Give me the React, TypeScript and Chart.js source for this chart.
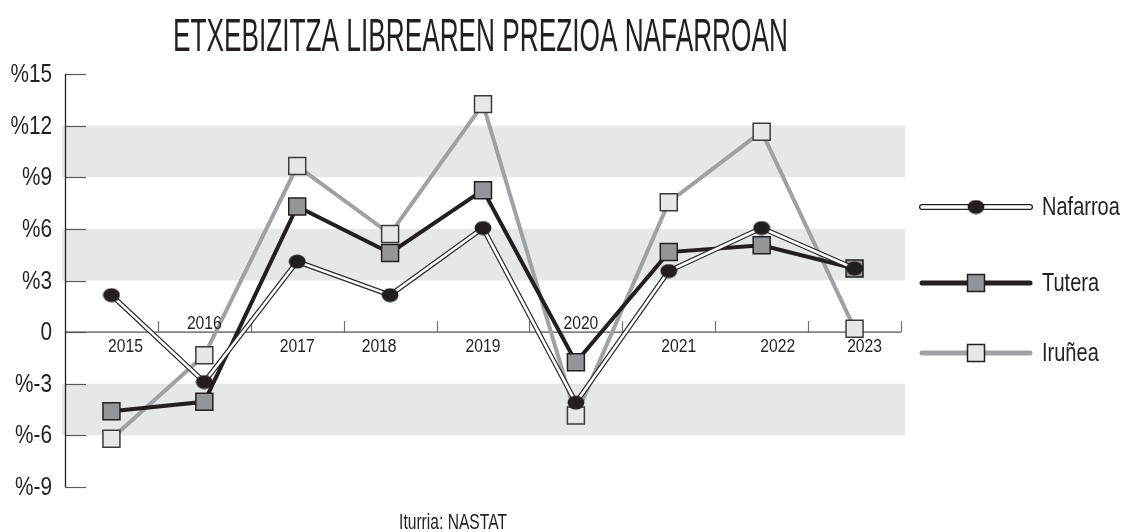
import React, { useEffect, useRef } from 'react';
import { Chart, registerables } from 'chart.js';

Chart.register(...registerables);

// ---------------- data ----------------
const YEARS = ['2015', '2016', '2017', '2018', '2019', '2020', '2021', '2022', '2023'];
const NAFARROA = [2.15, -2.9, 4.1, 2.15, 6.05, -4.1, 3.55, 6.05, 3.7];
const TUTERA = [-4.6, -4.05, 7.3, 4.6, 8.25, -1.75, 4.65, 5.05, 3.7];
const IRUNEA = [-6.2, -1.35, 9.65, 5.7, 13.25, -4.85, 7.55, 11.65, 0.2];
const SERIES_NAMES = ['Nafarroa', 'Tutera', 'Iruñea'];
const Y_TICKS = [-9, -6, -3, 0, 3, 6, 9, 12, 15];
const Y_TICK_LABELS = ['%-9', '%-6', '%-3', '0', '%3', '%6', '%9', '%12', '%15'];
const SHADED_BANDS = [[9, 12], [3, 6], [-6, -3]];
const LABELS_ABOVE_AXIS = ['2016', '2020'];
const TITLE = 'ETXEBIZITZA LIBREAREN PREZIOA NAFARROAN';
const SOURCE = 'Iturria: NASTAT';

// ---------------- styling ----------------
const INK = '#231f20';
const MID_GRAY = '#939598';
const LIGHT_GRAY = '#e6e7e8';
const LINE_GRAY = '#9fa1a4';
const FONT = '"Liberation Sans", Arial, sans-serif';
const X_LABEL_NUDGE = [14, 0, 0, -11, 0, 5, 10, 16, 10];

function makeEllipse(): HTMLCanvasElement {
  const c = document.createElement('canvas');
  c.width = 18;
  c.height = 15;
  const g = c.getContext('2d')!;
  g.fillStyle = INK;
  g.beginPath();
  g.ellipse(9, 7.5, 8.4, 6.9, 0, 0, Math.PI * 2);
  g.fill();
  return c;
}

function drawText(
  ctx: CanvasRenderingContext2D,
  text: string,
  x: number,
  capCenterY: number,
  size: number,
  sx: number,
  align: CanvasTextAlign,
  color = INK
) {
  ctx.save();
  ctx.font = `${size}px ${FONT}`;
  ctx.fillStyle = color;
  ctx.textAlign = align;
  ctx.textBaseline = 'alphabetic';
  ctx.translate(x, capCenterY + size * 0.36);
  ctx.scale(sx, 1);
  ctx.fillText(text, 0, 0);
  ctx.restore();
}

function drawSquare(ctx: CanvasRenderingContext2D, x: number, y: number, fill: string) {
  ctx.save();
  ctx.fillStyle = fill;
  ctx.strokeStyle = INK;
  ctx.lineWidth = 1.5;
  ctx.fillRect(x - 8.5, y - 8.5, 17, 17);
  ctx.strokeRect(x - 8.5, y - 8.5, 17, 17);
  ctx.restore();
}

const decorPlugin = {
  id: 'decor',
  beforeDatasetsDraw(chart: any) {
    const { ctx, chartArea: a, scales } = chart;
    const ys = scales.y;
    const n = YEARS.length;
    ctx.save();
    // shaded bands
    ctx.fillStyle = LIGHT_GRAY;
    SHADED_BANDS.forEach(([lo, hi]) => {
      const y1 = ys.getPixelForValue(hi);
      const y2 = ys.getPixelForValue(lo);
      ctx.fillRect(a.left - 3, y1, a.right - a.left + 7, y2 - y1);
    });
    // zero line
    const y0 = ys.getPixelForValue(0);
    ctx.strokeStyle = '#808285';
    ctx.lineWidth = 1.6;
    ctx.beginPath();
    ctx.moveTo(a.left, y0);
    ctx.lineTo(a.right, y0);
    ctx.stroke();
    // x tick marks at category boundaries
    ctx.strokeStyle = '#6d6e71';
    ctx.lineWidth = 1.2;
    for (let i = 1; i <= n; i++) {
      const x = Math.round(a.left + (i * (a.right - a.left)) / n) + 0.5;
      ctx.beginPath();
      ctx.moveTo(x, y0 - 11);
      ctx.lineTo(x, y0);
      ctx.stroke();
    }
    // y ticks
    ctx.strokeStyle = '#58595b';
    ctx.lineWidth = 1.2;
    Y_TICKS.forEach((v) => {
      const y = Math.round(ys.getPixelForValue(v)) + 0.5;
      ctx.beginPath();
      ctx.moveTo(a.left, y);
      ctx.lineTo(a.left + 21, y);
      ctx.stroke();
    });
    // y axis line
    ctx.strokeStyle = INK;
    ctx.lineWidth = 1.3;
    ctx.beginPath();
    ctx.moveTo(a.left + 0.5, ys.getPixelForValue(15));
    ctx.lineTo(a.left + 0.5, ys.getPixelForValue(-9));
    ctx.stroke();
    ctx.restore();
  },
  afterDraw(chart: any) {
    const { ctx, scales } = chart;
    const xs = scales.x;
    const ys = scales.y;
    const y0 = ys.getPixelForValue(0);

    // y tick labels
    Y_TICKS.forEach((v, i) => {
      drawText(ctx, Y_TICK_LABELS[i], 52, ys.getPixelForValue(v) - 1, 25, 0.83, 'right');
    });

    // x labels
    YEARS.forEach((yr, i) => {
      const x = xs.getPixelForValue(i) + X_LABEL_NUDGE[i];
      const above = LABELS_ABOVE_AXIS.includes(yr);
      drawText(ctx, yr, x, above ? y0 - 10 : y0 + 13, 18, 0.87, 'center');
    });

    // title
    drawText(ctx, TITLE, 173, 34, 46, 0.57, 'left');
    // source
    drawText(ctx, SOURCE, 453, 521, 22, 0.71, 'center');

    // legend
    const rows = [207, 283, 353];
    const lx1 = 922;
    const lx2 = 1030;
    const mx = 976;
    ctx.save();
    ctx.lineCap = 'round';
    // Nafarroa
    ctx.strokeStyle = INK;
    ctx.lineWidth = 6;
    ctx.beginPath();
    ctx.moveTo(lx1, rows[0]);
    ctx.lineTo(lx2, rows[0]);
    ctx.stroke();
    ctx.strokeStyle = '#ffffff';
    ctx.lineWidth = 3.4;
    ctx.beginPath();
    ctx.moveTo(lx1, rows[0]);
    ctx.lineTo(lx2, rows[0]);
    ctx.stroke();
    ctx.drawImage(ellipse, mx - 9, rows[0] - 7.5);
    // Tutera
    ctx.strokeStyle = INK;
    ctx.lineWidth = 5;
    ctx.beginPath();
    ctx.moveTo(lx1, rows[1]);
    ctx.lineTo(lx2, rows[1]);
    ctx.stroke();
    drawSquare(ctx, mx, rows[1], MID_GRAY);
    // Iruñea
    ctx.strokeStyle = LINE_GRAY;
    ctx.lineWidth = 5;
    ctx.beginPath();
    ctx.moveTo(lx1, rows[2]);
    ctx.lineTo(lx2, rows[2]);
    ctx.stroke();
    drawSquare(ctx, mx, rows[2], LIGHT_GRAY);
    ctx.restore();

    SERIES_NAMES.forEach((name, i) => {
      drawText(ctx, name, 1042, rows[i] - 1.5, 26, 0.77, 'left');
    });
  },
};

const ellipse = typeof document !== 'undefined' ? makeEllipse() : (null as any);

export default function App() {
  const ref = useRef<HTMLCanvasElement>(null);

  useEffect(() => {
    if (!ref.current) return;
    const chart = new Chart(ref.current, {
      type: 'line',
      data: {
        labels: YEARS,
        datasets: [
          {
            label: SERIES_NAMES[0],
            data: NAFARROA,
            borderColor: '#ffffff',
            borderWidth: 2.6,
            pointStyle: ellipse,
            pointRadius: 8,
            pointBackgroundColor: INK,
            pointBorderWidth: 0,
            tension: 0,
          },
          {
            label: SERIES_NAMES[0] + ' outline',
            data: NAFARROA,
            borderColor: '#2b2b2b',
            borderWidth: 5,
            pointRadius: 0,
            tension: 0,
          },
          {
            label: SERIES_NAMES[1],
            data: TUTERA,
            borderColor: INK,
            borderWidth: 4,
            pointStyle: 'rect',
            pointRadius: 12,
            pointBackgroundColor: MID_GRAY,
            pointBorderColor: INK,
            pointBorderWidth: 1.5,
            tension: 0,
          },
          {
            label: SERIES_NAMES[2],
            data: IRUNEA,
            borderColor: LINE_GRAY,
            borderWidth: 4,
            pointStyle: 'rect',
            pointRadius: 12,
            pointBackgroundColor: LIGHT_GRAY,
            pointBorderColor: '#3a3a3a',
            pointBorderWidth: 1.5,
            tension: 0,
          },
        ],
      },
      options: {
        responsive: false,
        animation: false,
        events: [],
        layout: { padding: { left: 65, right: 223, top: 74, bottom: 45 } },
        plugins: {
          legend: { display: false },
          tooltip: { enabled: false },
          title: { display: false },
        },
        scales: {
          x: { type: 'category', display: false, offset: true },
          y: { type: 'linear', display: false, min: -9, max: 15 },
        },
      },
      plugins: [decorPlugin],
    });
    return () => chart.destroy();
  }, []);

  return (
    <div style={{ position: 'fixed', left: 0, top: 0, width: 1124, height: 532, background: '#ffffff' }}>
      <canvas ref={ref} width={1124} height={532} style={{ display: 'block' }} />
    </div>
  );
}
